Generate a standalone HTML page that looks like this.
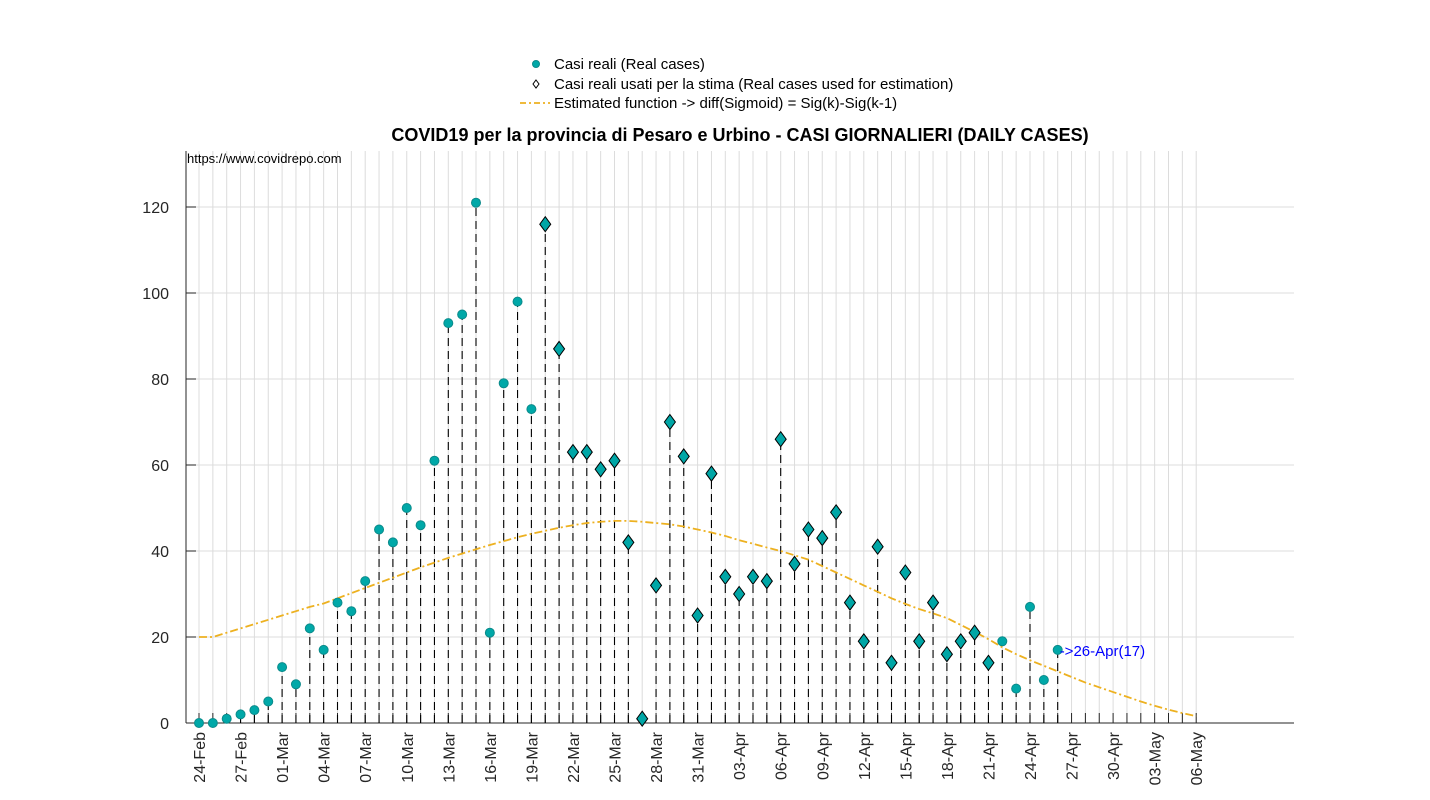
<!DOCTYPE html>
<html><head><meta charset="utf-8"><style>
body{margin:0;background:#fff;}
svg{display:block;font-family:"Liberation Sans",Arial,sans-serif;}
</style></head><body>
<svg id="chart" width="1430" height="800"></svg>
<script>
const realCases = [0,0,1,2,3,5,13,9,22,17,28,26,33,45,42,50,46,61,93,95,121,21,79,98,73,116,87,63,63,59,61,42,1,32,70,62,25,58,34,30,34,33,66,37,45,43,49,28,19,41,14,35,19,28,16,19,21,14,19,8,27,10,17];
const usedForEstimate = [25,26,27,28,29,30,31,32,33,34,35,36,37,38,39,40,41,42,43,44,45,46,47,48,49,50,51,52,53,54,55,56,57];
const estimated = [20,20,21,22,23,24,25,26,27,27.8,29,30.2,31.4,32.6,33.8,35,36.2,37.3,38.4,39.4,40.4,41.4,42.3,43.2,44,44.7,45.4,46,46.5,46.8,47,47,46.8,46.5,46.2,45.7,45,44.3,43.5,42.5,41.7,40.8,40,39,38,36.5,35,33.5,32,30.5,29,27.7,26.5,25.5,24.4,22.8,21.2,19.5,17.6,16,14.6,13.3,12,10.7,9.4,8.3,7.2,6.1,5,4,3.1,2.3,1.6];
const yTicks = [0,20,40,60,80,100,120];
const monthNames = ["Feb","Mar","Apr","May"];
const monthLens = [29,31,30,31];
const nDays = 73;

const NS="http://www.w3.org/2000/svg";
const svg=document.getElementById('chart');
const X0=186,X1=1294,YT=151,YB=723;
function xs(i){return 199+i*13.85;}
function ys(v){return YB-v*4.3;}
function mk(tag,attrs,parent){const e=document.createElementNS(NS,tag);for(const k in attrs)e.setAttribute(k,attrs[k]);(parent||svg).appendChild(e);return e;}
function dateLabel(i){let d=24+i,m=0;while(d>monthLens[m]){d-=monthLens[m];m++;}return (d<10?"0":"")+d+"-"+monthNames[m];}

const grid=mk('g',{});


for(let i=0;i<nDays;i++){mk('line',{x1:xs(i),x2:xs(i),y1:YT,y2:YB,stroke:'#dcdcdc','stroke-width':1},grid);}
yTicks.forEach(v=>{mk('line',{x1:X0,x2:X1,y1:ys(v),y2:ys(v),stroke:'#dcdcdc','stroke-width':1},grid);});

const ax=mk('g',{});


mk('line',{x1:X0,x2:X0,y1:YT,y2:YB,stroke:'#262626','stroke-width':1},ax);
mk('line',{x1:X0,x2:X1,y1:YB,y2:YB,stroke:'#262626','stroke-width':1},ax);
yTicks.forEach(v=>{
  mk('line',{x1:X0,x2:X0+10,y1:ys(v),y2:ys(v),stroke:'#262626'},ax);
  const t=mk('text',{x:X0-17,y:ys(v)+6,'text-anchor':'end','font-size':16,fill:'#262626'},ax);
  t.textContent=v;
  
  
});
for(let i=0;i<nDays;i++){
  mk('line',{x1:xs(i),x2:xs(i),y1:YB,y2:YB-10,stroke:'#262626'},ax);
  if(i%3===0){
    const t=mk('text',{x:0,y:0,'text-anchor':'end','font-size':16,fill:'#262626',transform:`translate(${xs(i)+6},${YB+9}) rotate(-90)`},ax);
    t.textContent=dateLabel(i);
    
    
  }
}

const stems=mk('g',{});


realCases.forEach((v,i)=>{mk('line',{x1:xs(i),x2:xs(i),y1:YB,y2:ys(v),stroke:'#000','stroke-width':1.1,'stroke-dasharray':'8,5'},stems);});

const pts=estimated.map((v,i)=>xs(i)+','+ys(v)).join(' ');
const curve=mk('polyline',{points:pts,fill:'none',stroke:'#edb120','stroke-width':1.8,'stroke-dasharray':'8,3,2,3'});



realCases.forEach((v,i)=>{
  const x=xs(i),y=ys(v);
  if(usedForEstimate.includes(i)){
    const d=mk('polygon',{points:`${x},${y-7.5} ${x+5.5},${y} ${x},${y+7.5} ${x-5.5},${y}`,fill:'#00a6a6',stroke:'#000','stroke-width':1});
    
    
  } else {
    const c=mk('circle',{cx:x,cy:y,r:4.5,fill:'#00a8a8',stroke:'#0b8a8a','stroke-width':1});
    
    
  }
});

const lastI=realCases.length-1;
const ann=mk('text',{x:xs(lastI)+2,y:ys(realCases[lastI])+6,'font-size':15,fill:'#0000ff'});
ann.textContent='->'+dateLabel(lastI)+'('+realCases[lastI]+')';



const src=mk('text',{x:187,y:163,'font-size':13,fill:'#000'});
src.textContent='https://www.covidrepo.com';



const ti=mk('text',{x:740,y:141,'text-anchor':'middle','font-size':18,'font-weight':'bold',fill:'#000'});
ti.textContent='COVID19 per la provincia di Pesaro e Urbino - CASI GIORNALIERI (DAILY CASES)';



const lg=mk('g',{});


const l1=mk('g',{},lg);


mk('circle',{cx:536,cy:64,r:3.5,fill:'#00a8a8',stroke:'#0b8a8a'},l1);
mk('text',{x:554,y:69,'font-size':15,fill:'#000'},l1).textContent='Casi reali (Real cases)';
const l2=mk('g',{},lg);


mk('polygon',{points:'536,80 539,84 536,88 533,84',fill:'#fff',stroke:'#000'},l2);
mk('text',{x:554,y:89,'font-size':15,fill:'#000'},l2).textContent='Casi reali usati per la stima (Real cases used for estimation)';
const l3=mk('g',{},lg);


mk('line',{x1:520,x2:550,y1:103,y2:103,stroke:'#edb120','stroke-width':1.8,'stroke-dasharray':'6,3,2,3'},l3);
mk('text',{x:554,y:108,'font-size':15,fill:'#000'},l3).textContent='Estimated function -> diff(Sigmoid) = Sig(k)-Sig(k-1)';
</script>
</body></html>
